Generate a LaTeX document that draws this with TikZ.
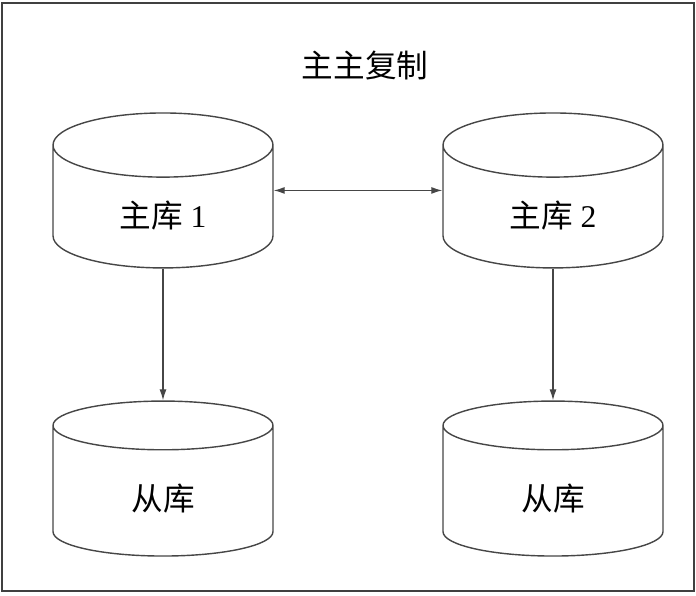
\documentclass[tikz,border=0pt]{standalone}
\usepackage{fontspec}
\setmainfont{Liberation Serif}
\newfontfamily\cjk{Noto Sans CJK SC}
\usetikzlibrary{shapes.geometric, arrows.meta, positioning}
\definecolor{linegray}{RGB}{70,70,70}
\tikzset{
    dbcyl/.style={cylinder, shape border rotate=90, draw=linegray, line width=0.8pt,
                  aspect=0.65, minimum width=4.4cm, minimum height=3.1cm,
                  text height=0.62cm, text depth=0pt,
                  fill=white, font=\fontsize{18}{21}\selectfont},
    arrow/.style={-{Latex[length=2.2mm,width=1.4mm]}, line width=0.7pt, draw=linegray},
    dblarrow/.style={arrow, {Latex[length=2.2mm,width=1.4mm]}-{Latex[length=2.2mm,width=1.4mm]}},
    titlelbl/.style={font=\fontsize{18}{21}\selectfont},
}

\begin{document}
\begin{tikzpicture}[x=0.02cm, y=-0.02cm]
    \useasboundingbox (0,0) rectangle (696,595);
    \draw[line width=1.6pt, draw=black!75] (2,3) rectangle (694,591);
    \node[titlelbl] (title) at (365,65) {\cjk 主主复制};
    % masters
    \node[dbcyl] (m1) at (163,212) {{\cjk 主库} 1};
    \node[dbcyl] (m2) at (553,212) {{\cjk 主库} 2};
    % slaves
    \node[dbcyl] (s1) at (163,495) {\cjk 从库};
    \node[dbcyl] (s2) at (553,495) {\cjk 从库};
    \draw[dblarrow] (m1.shape center -| m1.east) -- (m2.shape center -| m2.west);
    \draw[arrow] (m1.bottom) -- (s1.top);
    \draw[arrow] (m2.bottom) -- (s2.top);
\end{tikzpicture}
\end{document}
